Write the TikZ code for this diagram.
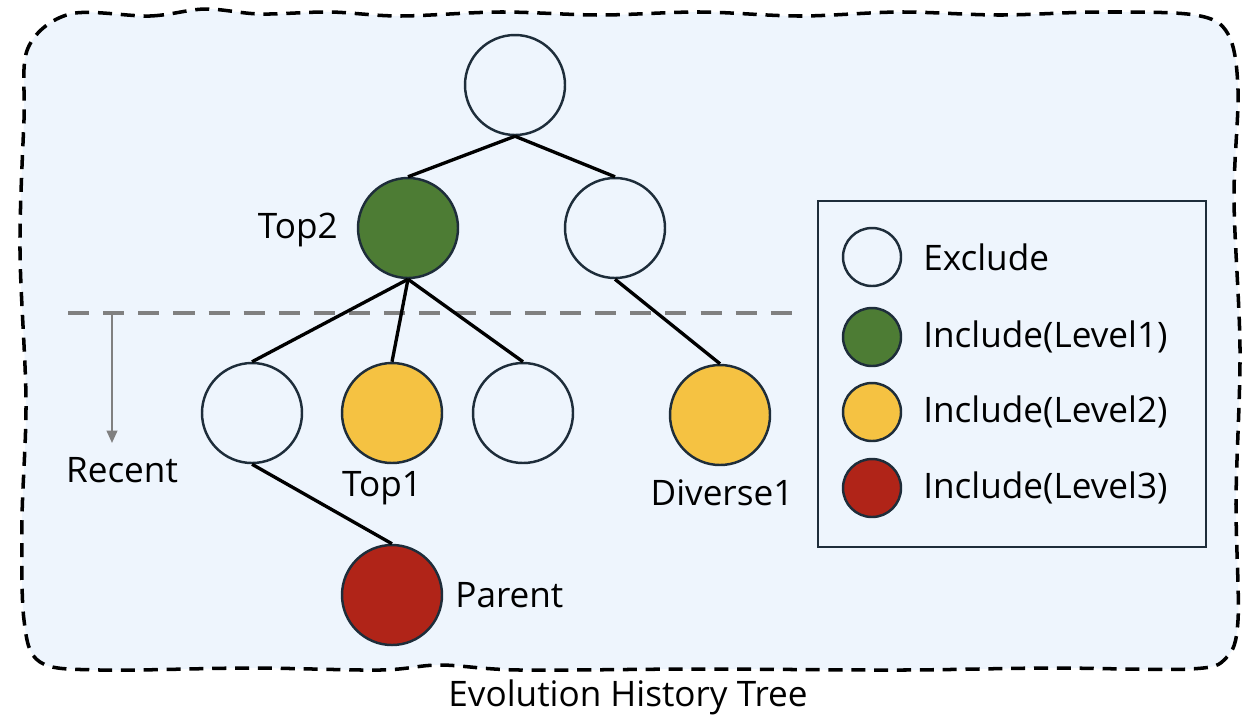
\documentclass[tikz,border=0pt]{standalone}
\usepackage{fontspec}
\setmainfont{Open Sans}
\usetikzlibrary{arrows.meta}
\definecolor{bgblue}{HTML}{EEF5FD}
\definecolor{outl}{HTML}{1E2D3A}
\definecolor{lvlone}{HTML}{4D7C34}
\definecolor{lvltwo}{HTML}{F5C242}
\definecolor{lvlthree}{HTML}{B02418}
\definecolor{guide}{HTML}{808080}
\begin{document}
\begin{tikzpicture}[x=0.02cm,y=-0.02cm,
  tnode/.style={circle,draw=outl,line width=1.4pt,minimum size=100*0.02cm,inner sep=0pt},
  lnode/.style={circle,draw=outl,line width=1.4pt,minimum size=58*0.02cm,inner sep=0pt},
  excl/.style={fill=bgblue},
  lone/.style={fill=lvlone},
  ltwo/.style={fill=lvltwo},
  lthree/.style={fill=lvlthree},
  edge/.style={line width=1.9pt,black},
  txt/.style={font=\fontsize{20}{24}\selectfont,inner sep=0pt,text=black}]
\useasboundingbox (0,0) rectangle (1246,718);
% background
\draw[fill=bgblue,draw=black,line width=2pt,dash pattern=on 8pt off 5pt]
  plot[smooth cycle,tension=0.55] coordinates {
  (70,14) (150,16) (205,9) (260,14) (330,12) (400,16) (500,12) (600,15) (700,12)
  (800,16) (900,12) (1000,15) (1100,12) (1195,15) (1228,34) (1238,90) (1234,200)
  (1240,350) (1236,500) (1238,620) (1226,658) (1190,669) (1050,668) (900,670)
  (700,669) (520,670) (440,665) (380,670) (250,668) (100,670) (40,662) (24,620)
  (22,520) (26,400) (20,250) (24,120) (28,48)};
% recent guide
\draw[guide,line width=2.4pt,dash pattern=on 12pt off 8pt] (68,313) -- (800,313);
\coordinate (ga) at (112,313);
\coordinate (gb) at (112,443);
\draw[guide,line width=1.2pt,-{Triangle[length=7pt,width=6pt]}] (ga) -- (gb);
\node[txt] (recent) at (122,470) {Recent};
% tree nodes
\node[tnode,excl] (root) at (515,85) {};
\node[tnode,lone] (top2) at (408,228) {};
\node[tnode,excl] (rmid) at (615,228) {};
\node[tnode,excl] (la) at (252,413) {};
\node[tnode,ltwo] (top1) at (392,413) {};
\node[tnode,excl] (lc) at (523,413) {};
\node[tnode,ltwo] (div) at (720,415) {};
\node[tnode,lthree] (par) at (392,595) {};
% edges
\draw[edge] (root.south) -- (top2.north);
\draw[edge] (root.south) -- (rmid.north);
\draw[edge] (top2.south) -- (la.north);
\draw[edge] (top2.south) -- (top1.north);
\draw[edge] (top2.south) -- (lc.north);
\draw[edge] (rmid.south) -- (div.north);
\draw[edge] (la.south) -- (par.north);
% labels
\node[txt,anchor=east] (ltop2) at (338,230) {Top2};
\node[txt] (ltop1) at (382,488) {Top1};
\node[txt] (ldiv) at (722,493) {Diverse1};
\node[txt,anchor=west] (lpar) at (455,595) {Parent};
% legend
\node[draw=outl,line width=1.4pt,fill=none,minimum width=388*0.02cm,minimum height=346*0.02cm,inner sep=0pt] (legend) at (1012,374) {};
\node[lnode,excl] (k1) at (872,257) {};
\node[lnode,lone] (k2) at (872,337) {};
\node[lnode,ltwo] (k3) at (872,412) {};
\node[lnode,lthree] (k4) at (872,488) {};
\node[txt,anchor=west] (t1) at (923,257) {Exclude};
\node[txt,anchor=west] (t2) at (923,337) {Include(Level1)};
\node[txt,anchor=west] (t3) at (923,412) {Include(Level2)};
\node[txt,anchor=west] (t4) at (923,488) {Include(Level3)};
% title
\node[txt] (title) at (628,697) {Evolution History Tree};
\end{tikzpicture}
\end{document}
